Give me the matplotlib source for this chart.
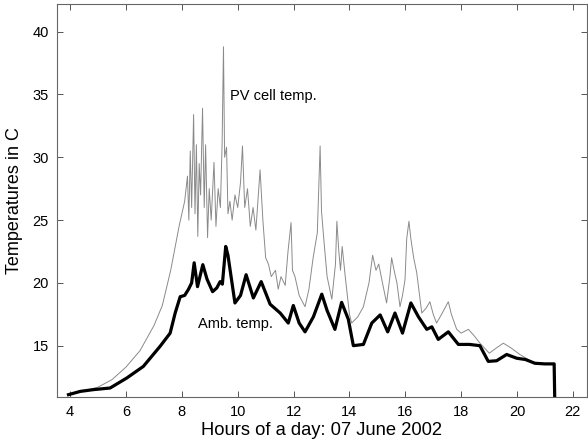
import matplotlib
matplotlib.use('Agg')
import matplotlib.pyplot as plt

plt.rcParams['font.family'] = ['Liberation Sans', 'DejaVu Sans']

# Ambient temperature (thick black line)
amb_hour = [3.94, 4.36, 4.83, 5.43, 6.03, 6.62, 7.22, 7.58, 7.76, 7.94, 8.1, 8.24, 8.35,
            8.44, 8.56, 8.75, 8.9, 9.1, 9.25, 9.37, 9.45, 9.57, 9.65, 9.9, 10.1, 10.3,
            10.56, 10.84, 11.16, 11.52, 11.81, 11.99, 12.2, 12.41, 12.71, 13.01, 13.2,
            13.48, 13.72, 13.96, 14.14, 14.5, 14.8, 15.1, 15.37, 15.63, 15.9, 16.2,
            16.47, 16.77, 16.95, 17.18, 17.54, 17.9, 18.3, 18.67, 18.97, 19.27, 19.63,
            19.99, 20.3, 20.64, 21.0, 21.33, 21.35]
amb_temp = [11.1, 11.36, 11.5, 11.63, 12.43, 13.35, 14.95, 16.0, 17.6, 18.9, 19.0, 19.5, 20.0,
            21.6, 19.7, 21.45, 20.3, 19.3, 19.6, 20.1, 19.9, 22.9, 22.2, 18.4, 19.0, 20.65,
            18.8, 20.1, 18.3, 17.6, 16.8, 18.2, 16.8, 16.1, 17.3, 19.1, 17.8,
            16.3, 18.45, 17.1, 15.0, 15.1, 16.8, 17.45, 16.1, 17.6, 16.0, 18.4,
            17.3, 16.3, 16.5, 15.5, 16.1, 15.1, 15.1, 15.0, 13.75, 13.8, 14.3,
            14.0, 13.9, 13.6, 13.55, 13.55, 10.9]

# PV cell temperature (thin grey line)
pv_hour = [3.94, 4.5, 5.0, 5.5, 6.0, 6.5, 7.0, 7.3, 7.6, 7.9, 8.1, 8.2, 8.25, 8.3, 8.35,
           8.42, 8.47, 8.52, 8.57, 8.62, 8.67, 8.74, 8.8, 8.85, 8.92, 8.98, 9.05, 9.15,
           9.22, 9.3, 9.38, 9.44, 9.49, 9.53, 9.6, 9.65, 9.72, 9.8, 9.9, 10.0, 10.1,
           10.17, 10.25, 10.35, 10.45, 10.55, 10.65, 10.8, 10.9, 11.0, 11.1, 11.2, 11.35,
           11.45, 11.55, 11.7, 11.8, 11.91, 11.96, 12.05, 12.2, 12.41, 12.55, 12.7, 12.85,
           12.95, 13.0, 13.1, 13.2, 13.37, 13.5, 13.55, 13.62, 13.68, 13.74, 13.85, 14.0,
           14.08, 14.3, 14.5, 14.7, 14.83, 14.95, 15.05, 15.16, 15.33, 15.45, 15.51, 15.6,
           15.7, 15.81, 15.9, 15.99, 16.05, 16.13, 16.2, 16.3, 16.41, 16.59, 16.75, 16.88,
           17.0, 17.12, 17.3, 17.54, 17.65, 17.84, 18.0, 18.26, 18.5, 18.67, 19.01, 19.25,
           19.51, 19.8, 20.1, 20.4, 20.7, 21.0, 21.3]
pv_temp = [11.1, 11.4, 11.7, 12.3, 13.3, 14.6, 16.6, 18.2, 21.0, 24.5, 26.5, 28.5, 25.0, 30.5, 26.0,
           33.4, 25.5, 31.0, 23.7, 29.5, 27.0, 33.9, 26.0, 31.0, 23.6, 27.5, 25.0, 29.6,
           24.5, 27.5, 26.0, 31.0, 38.8, 30.0, 30.8, 25.5, 26.5, 25.0, 27.0, 26.0, 28.0,
           30.9, 26.0, 27.5, 24.5, 26.0, 24.2, 29.0, 25.0, 22.0, 21.5, 20.5, 21.0,
           19.5, 20.5, 19.8, 22.5, 24.8, 21.0, 20.5, 19.0, 18.1, 19.5, 22.0, 24.0,
           30.9, 25.7, 23.0, 20.5, 18.7, 21.5, 24.9, 22.5, 21.0, 22.9, 20.5, 17.5,
           16.8, 17.3, 18.1, 20.0, 22.2, 21.0, 21.5, 20.25, 18.4, 20.5, 22.0, 21.0,
           20.0, 18.1, 19.0, 20.25, 23.5, 24.9, 23.5, 22.0, 20.8, 17.6, 18.0, 18.5,
           17.5, 16.8, 17.5, 18.5, 17.5, 16.3, 16.0, 16.3, 15.7, 15.2, 14.4, 14.8,
           15.2, 14.8, 14.3, 13.9, 13.5, 13.5, 13.55]

x_ticks = [4, 6, 8, 10, 12, 14, 16, 18, 20, 22]
y_ticks = [15, 20, 25, 30, 35, 40]

fig = plt.figure(figsize=(5.88, 4.48), dpi=100)
ax = fig.add_axes([0.097, 0.114, 0.901, 0.877])

ax.plot(pv_hour, pv_temp, color='#8a8a8a', lw=0.7)
ax.plot(amb_hour, amb_temp, color='black', lw=2.3)

ax.text(9.73, 34.85, 'PV cell temp.', fontsize=10.5, va='center', ha='left')
ax.text(8.59, 16.75, 'Amb. temp.', fontsize=10.5, va='center', ha='left')

ax.set_xlim(3.53, 22.5)
ax.set_ylim(10.92, 42.2)
ax.set_xticks(x_ticks)
ax.set_yticks(y_ticks)
ax.tick_params(direction='in', top=True, right=True, labelsize=10.5,
               length=4, width=0.7, color='#555555', pad=6)
for s in ax.spines.values():
    s.set_color('#666666')
    s.set_linewidth(0.8)

ax.set_xlabel('Hours of a day: 07 June 2002', fontsize=13.2, labelpad=2)
ax.set_ylabel('Temperatures in C', fontsize=13, labelpad=7)

fig.savefig('out.png', dpi=100)
